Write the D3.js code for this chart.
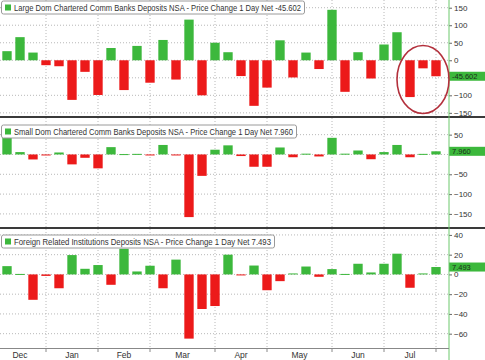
<!DOCTYPE html>
<html><head><meta charset="utf-8">
<script src="https://cdn.jsdelivr.net/npm/d3@7/dist/d3.min.js"></script>
<style>body{margin:0;background:#fff} svg{display:block} text{font-family:"Liberation Sans",Arial,sans-serif}</style>
</head><body><svg id="c" width="485" height="360"></svg>
<script>
// ---- data ----
const weeks = ["2022-12-14","2022-12-21","2022-12-28","2023-01-04","2023-01-11","2023-01-18","2023-01-25",
  "2023-02-01","2023-02-08","2023-02-15","2023-02-22","2023-03-01","2023-03-08","2023-03-15","2023-03-22","2023-03-29",
  "2023-04-05","2023-04-12","2023-04-19","2023-04-26","2023-05-03","2023-05-10","2023-05-17","2023-05-24","2023-05-31",
  "2023-06-07","2023-06-14","2023-06-21","2023-06-28","2023-07-05","2023-07-12","2023-07-19","2023-07-26","2023-08-02"];
const months = ["Dec","Jan","Feb","Mar","Apr","May","Jun","Jul"];
const largeBanks = [26,66,22,-14,-17,-113,-33,-99,35,-85,41,-64,58,-55,116,-100,50,23,-45,-130,-78,57,-49,22,-25,144,-90,23,-52,45,80,-105,-23,-45.602];
const smallBanks = [42,6,-12.6,-1,5,-25,-8.4,-35,18.5,1,1.5,-2,24,-2,-158,-54,12,23,-4,-31,-31,17.6,-7,2,-5,42,2,10,-12,6,24,-7,1.5,7.960];
const foreignInst = [8.4,0.5,-25.7,-1.5,-14,19.6,5.7,9.5,-10.5,26,3,8.8,-14,15,-65,-35,-32,20,-1,9,-16,-6.8,1,8,-2.4,5.4,0.5,10.8,2,10.8,21,-13.5,1,7.493];
const largeTicks = [150,100,50,0,-50,-100,-150];
const smallTicks = [50,0,-50,-100,-150];
const foreignTicks = [40,20,0,-20,-40,-60];
const titles = [
  "Large Dom Chartered Comm Banks Deposits NSA - Price Change 1 Day Net -45.602",
  "Small Dom Chartered Comm Banks Deposits NSA - Price Change 1 Day Net 7.960",
  "Foreign Related Institutions Deposits NSA - Price Change 1 Day Net 7.493"
];
const lastLabels = ["-45.602","7.960","7.493"];

// ---- layout ----
const W = 485, H = 360, axisX = 449;
const GREEN = "#3cb83c", RED = "#ec1a1a";
const svg = d3.select("#c");

const panels = [
  {values: largeBanks, ticks: largeTicks, title: titles[0], last: lastLabels[0], y0: 0, y1: 116, domain: [172, -159], lw: 287, legTop: 1},
  {values: smallBanks, ticks: smallTicks, title: titles[1], last: lastLabels[1], y0: 118, y1: 227, domain: [92, -183], lw: 279, legTop: 125},
  {values: foreignInst, ticks: foreignTicks, title: titles[2], last: lastLabels[2], y0: 229, y1: 348, domain: [46, -74.5], lw: 257, legTop: 235}
];

const x = d3.scaleBand().domain(weeks).range([0.5, 442.5]).paddingInner(0.28).paddingOuter(0.14);
const cx = d => x(d) + x.bandwidth() / 2;

// month starts (first week of each new month)
const monthStarts = weeks.filter((w, i) => i > 0 && w.slice(5, 7) !== weeks[i - 1].slice(5, 7));
const gridXs = monthStarts.map(cx);
const firstGrid = gridXs[0] - x.step() * 4; // virtual start of first month
const bounds = [firstGrid, ...gridXs];

panels.forEach((p, pi) => {
  const y = d3.scaleLinear().domain(p.domain).range([p.y0, p.y1]);
  const g = svg.append("g");
  const lv = p.values[p.values.length - 1];
  // vertical grid
  g.selectAll(".vg").data(gridXs).join("line")
    .attr("x1", d => d).attr("x2", d => d).attr("y1", p.y0).attr("y2", p.y1)
    .attr("stroke", "#b8b8b8").attr("stroke-dasharray", "1,2");
  // horizontal grid
  g.selectAll(".hg").data(p.ticks).join("line")
    .attr("x1", 0).attr("x2", axisX).attr("y1", d => y(d)).attr("y2", d => y(d))
    .attr("stroke", "#b8b8b8").attr("stroke-dasharray", "1,2");
  // bars
  g.selectAll(".bar").data(p.values).join("rect")
    .attr("x", (d, i) => x(weeks[i])).attr("width", x.bandwidth())
    .attr("y", d => Math.min(y(d), y(0)))
    .attr("height", d => Math.max(1, Math.abs(y(d) - y(0))))
    .attr("fill", d => d >= 0 ? GREEN : RED);
  // right axis (tick labels hidden behind the last-value tag are dropped)
  const visibleTicks = p.ticks.filter(t => Math.abs(y(t) - y(lv)) > 7);
  const ax = svg.append("g").attr("transform", `translate(${axisX},0)`)
    .call(d3.axisRight(y).tickValues(visibleTicks).tickSize(3).tickPadding(2));
  ax.select(".domain").remove();
  ax.selectAll("line").attr("stroke", "#666");
  ax.selectAll("text").attr("font-size", 8).attr("fill", "#333")
    .attr("font-family", "'Liberation Sans',Arial,sans-serif");
  // last value label
  svg.append("rect").attr("x", axisX).attr("y", y(lv) - 4.5).attr("width", W - axisX).attr("height", 9)
    .attr("fill", GREEN);
  svg.append("text").attr("x", axisX + 3).attr("y", y(lv) + 2.6).attr("font-size", 7.5).attr("fill", "#1b2e1b")
    .text(p.last);
  // legend
  svg.append("rect").attr("x", 1.5).attr("y", p.legTop).attr("width", p.lw + 16).attr("height", 13)
    .attr("rx", 2).attr("fill", "#fff").attr("stroke", "#9a9a9a");
  svg.append("rect").attr("x", 5).attr("y", p.legTop + 3.5).attr("width", 6).attr("height", 6).attr("fill", GREEN);
  svg.append("text").attr("x", 14).attr("y", p.legTop + 9.7).attr("font-size", 8.6).attr("fill", "#333")
    .attr("textLength", p.lw).attr("lengthAdjust", "spacingAndGlyphs").text(p.title);
});

// separators
[117, 228].forEach(yy => {
  svg.append("line").attr("x1", 0).attr("x2", W).attr("y1", yy).attr("y2", yy)
    .attr("stroke", "#3a3a3a").attr("stroke-width", 2);
});
// right axis line
svg.append("line").attr("x1", axisX).attr("x2", axisX).attr("y1", 0).attr("y2", 360)
  .attr("stroke", "#6cc86c").attr("stroke-width", 1);
// bottom axis
svg.append("line").attr("x1", 0).attr("x2", axisX).attr("y1", 348.5).attr("y2", 348.5).attr("stroke", "#888");
svg.selectAll(".xt").data(gridXs).join("line")
  .attr("x1", d => d).attr("x2", d => d).attr("y1", 348.5).attr("y2", 352).attr("stroke", "#888");
svg.selectAll(".ml").data(months).join("text")
  .attr("x", (d, i) => (bounds[i] + bounds[i + 1]) / 2).attr("y", 358)
  .attr("text-anchor", "middle").attr("font-size", 8.5).attr("fill", "#333").text(d => d);

// highlight circle around the last three weeks of the top panel
const yTop = d3.scaleLinear().domain(panels[0].domain).range([panels[0].y0, panels[0].y1]);
const lastThree = weeks.slice(-3);
const ecx = (cx(lastThree[0]) + cx(lastThree[2])) / 2;
svg.append("ellipse").attr("cx", ecx).attr("cy", yTop(-55)).attr("rx", 26).attr("ry", 34)
  .attr("fill", "none").attr("stroke", "#b3303c").attr("stroke-width", 1.6);
</script></body></html>
